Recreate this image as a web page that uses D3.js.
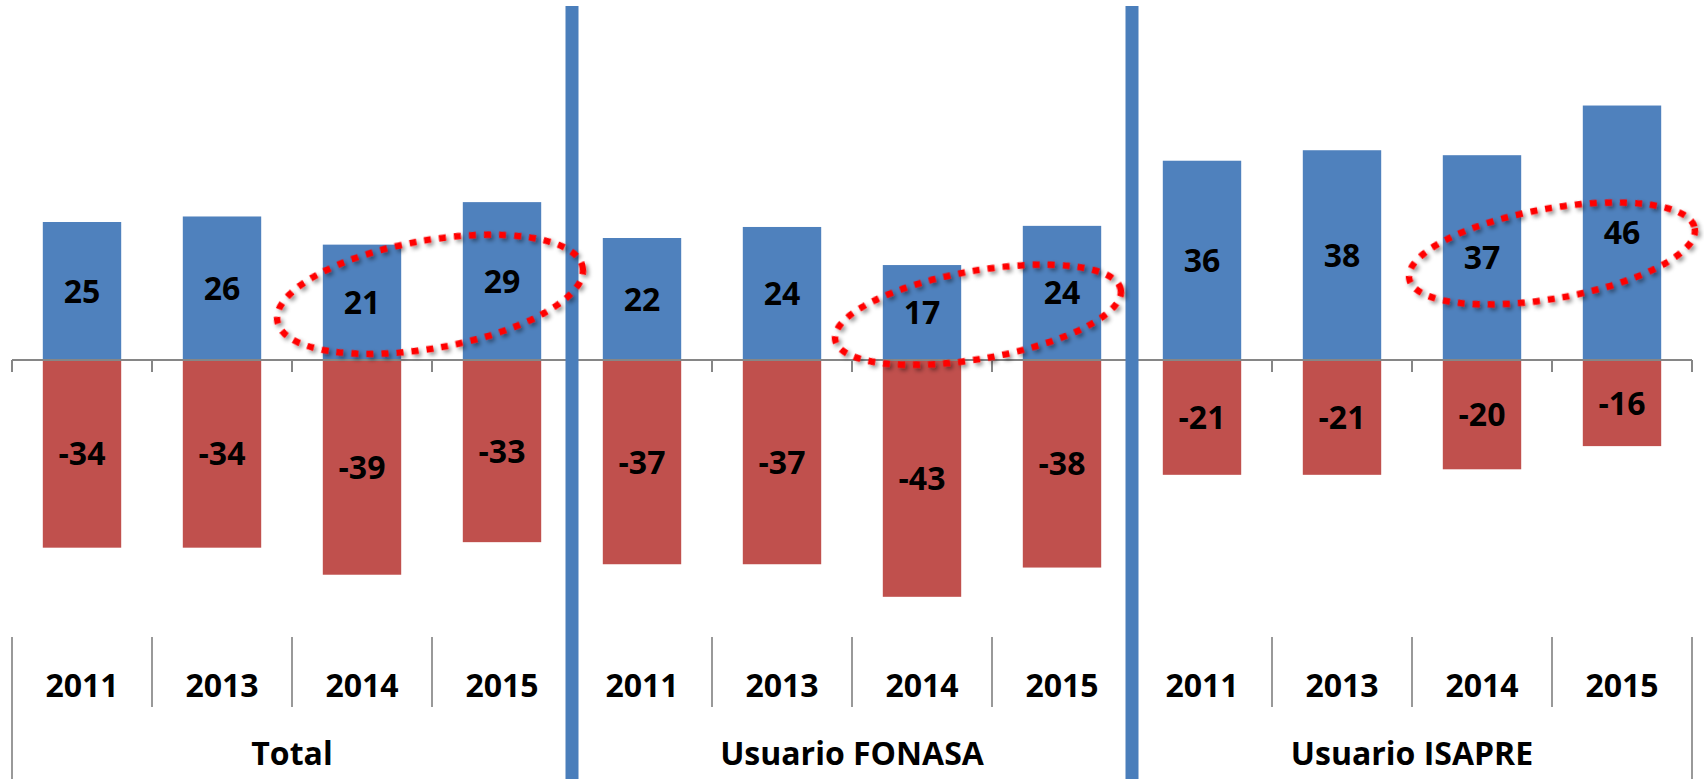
<!DOCTYPE html>
<html>
<head>
<meta charset="utf-8">
<script src="https://cdn.jsdelivr.net/npm/d3@7"></script>
<style>
  body { margin: 0; background: #fff; }
  text { font-family: 'Open Sans', 'DejaVu Sans', sans-serif; font-weight: bold; fill: #000; }
</style>
</head>
<body>
<svg width="1704" height="779"></svg>
<script>
const groups = ['Total', 'Usuario FONASA', 'Usuario ISAPRE'];
const years = ['2011', '2013', '2014', '2015'];
const positiveValues = [25, 26, 20.9, 28.6, 22.1, 24.1, 17.2, 24.3, 36.1, 38, 37.1, 46.1];
const negativeValues = [-34, -34, -38.9, -33, -37, -37, -42.9, -37.6, -20.8, -20.8, -19.8, -15.6];
// dotted circles: which two years of each group are highlighted
const highlightYears = ['2014', '2015'];
const highlightLevels = [11.9, 8.2, 19.3];

const svg = d3.select('svg');
const width = +svg.attr('width');
const height = +svg.attr('height');

const data = [];
groups.forEach((g, gi) => {
    years.forEach((yr, yi) => {
        const i = gi * years.length + yi;
        data.push({ key: g + '|' + yr, group: g, year: yr, pos: positiveValues[i], neg: negativeValues[i] });
    });
});

const left = 12, right = 1692, zeroY = 360, unit = 5.52;

const xScale = d3.scaleBand()
    .domain(data.map(d => d.key))
    .range([left, right])
    .paddingInner(0.44)
    .paddingOuter(0.22);

const yScale = d3.scaleLinear()
    .domain([-50, 50])
    .range([zeroY + 50 * unit, zeroY - 50 * unit]);

const step = xScale.step();
const boundary = i => left + i * step;
const fmt = d3.formatLocale({ decimal: '.', thousands: ',', grouping: [3], currency: ['', ''], minus: '-' }).format('.0f');

const defs = svg.append('defs');
const shadow = defs.append('filter').attr('id', 'shadow')
    .attr('x', '-20%').attr('y', '-40%').attr('width', '140%').attr('height', '180%');
shadow.append('feDropShadow')
    .attr('dx', 2).attr('dy', 3).attr('stdDeviation', 2.2)
    .attr('flood-color', '#000').attr('flood-opacity', 0.45);

const g = svg.append('g');

// bars
g.selectAll('rect.pos').data(data)
    .enter().append('rect')
        .attr('class', 'pos')
        .attr('x', d => xScale(d.key))
        .attr('width', xScale.bandwidth())
        .attr('y', d => yScale(d.pos))
        .attr('height', d => yScale(0) - yScale(d.pos))
        .attr('fill', '#4F81BD');

g.selectAll('rect.neg').data(data)
    .enter().append('rect')
        .attr('class', 'neg')
        .attr('x', d => xScale(d.key))
        .attr('width', xScale.bandwidth())
        .attr('y', yScale(0))
        .attr('height', d => yScale(d.neg) - yScale(0))
        .attr('fill', '#C0504D');

// category axis at zero
const xAxis = d3.axisBottom(xScale).tickSize(0).tickFormat('');
const xAxisG = g.append('g')
    .attr('transform', `translate(0,${yScale(0)})`)
    .call(xAxis);
xAxisG.select('.domain')
    .attr('stroke', '#868686').attr('stroke-width', 2)
    .attr('d', `M${left},0H${right}`);

g.selectAll('line.tick-mark').data(d3.range(13))
    .enter().append('line')
        .attr('class', 'tick-mark')
        .attr('x1', boundary).attr('x2', boundary)
        .attr('y1', yScale(0)).attr('y2', yScale(0) + 12)
        .attr('stroke', '#868686').attr('stroke-width', 2);

// label area lines
g.selectAll('line.year-sep').data(d3.range(13))
    .enter().append('line')
        .attr('class', 'year-sep')
        .attr('x1', boundary).attr('x2', boundary)
        .attr('y1', 637)
        .attr('y2', i => i % 4 === 0 ? height : 707)
        .attr('stroke', '#999').attr('stroke-width', 2);

// value labels
g.selectAll('text.pos-label').data(data)
    .enter().append('text')
        .attr('x', d => xScale(d.key) + xScale.bandwidth() / 2)
        .attr('y', d => (yScale(d.pos) + yScale(0)) / 2)
        .attr('dy', '0.36em')
        .attr('text-anchor', 'middle')
        .attr('font-size', 32)
        .text(d => fmt(d.pos));

g.selectAll('text.neg-label').data(data)
    .enter().append('text')
        .attr('x', d => xScale(d.key) + xScale.bandwidth() / 2)
        .attr('y', d => (yScale(d.neg) + yScale(0)) / 2)
        .attr('dy', '0.36em')
        .attr('text-anchor', 'middle')
        .attr('font-size', 32)
        .text(d => fmt(d.neg));

// year and group labels
g.selectAll('text.year').data(data)
    .enter().append('text')
        .attr('x', d => xScale(d.key) + xScale.bandwidth() / 2)
        .attr('y', 697)
        .attr('text-anchor', 'middle')
        .attr('font-size', 32)
        .text(d => d.year);

g.selectAll('text.group').data(groups)
    .enter().append('text')
        .attr('x', (d, i) => boundary(i * 4 + 2))
        .attr('y', 765)
        .attr('text-anchor', 'middle')
        .attr('font-size', 32)
        .text(d => d);

// blue separators between groups
g.selectAll('rect.group-sep').data([4, 8])
    .enter().append('rect')
        .attr('x', i => boundary(i) - 6.5)
        .attr('width', 13)
        .attr('y', 6)
        .attr('height', height - 6)
        .attr('fill', '#4A7EBB');

// dotted highlight ellipses
const ellipseSize = [[155, 54], [145, 44], [145, 45]];
const ellipseShift = [-2, -14, 0];
g.selectAll('ellipse').data(groups)
    .enter().append('ellipse')
        .attr('transform', (d, i) => {
            const a = xScale(d + '|' + highlightYears[0]) + xScale.bandwidth() / 2;
            const b = xScale(d + '|' + highlightYears[1]) + xScale.bandwidth() / 2;
            return `translate(${(a + b) / 2 + ellipseShift[i]},${yScale(highlightLevels[i])}) rotate(-10)`;
        })
        .attr('rx', (d, i) => ellipseSize[i][0])
        .attr('ry', (d, i) => ellipseSize[i][1])
        .attr('fill', 'none')
        .attr('stroke', '#FF0000')
        .attr('stroke-width', 6.5)
        .attr('stroke-dasharray', '7 8')
        .attr('filter', 'url(#shadow)');
</script>
</body>
</html>
